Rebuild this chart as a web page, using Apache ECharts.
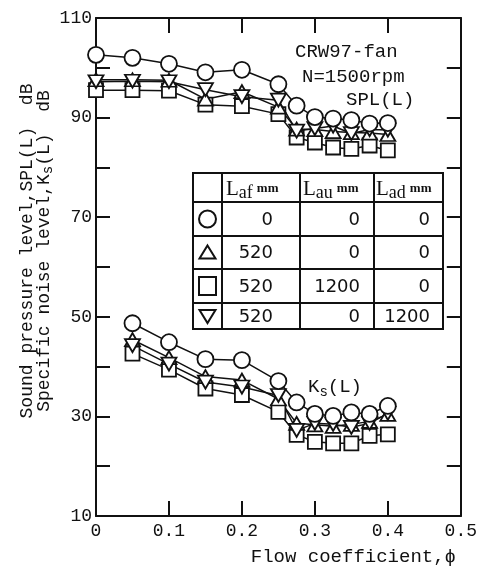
<!DOCTYPE html>
<html>
<head>
<meta charset="utf-8">
<script src="https://cdn.jsdelivr.net/npm/echarts@6.0.0/dist/echarts.min.js"></script>
<style>
  html, body { margin: 0; padding: 0; background: #fff; }
  #chart { width: 480px; height: 568px; }
</style>
</head>
<body>
<div id="chart"></div>
<script>
// flow coefficient points
const phiSpl = [0, 0.05, 0.1, 0.15, 0.2, 0.25, 0.275, 0.3, 0.325, 0.35, 0.375, 0.4];
const phiKs = [0.05, 0.1, 0.15, 0.2, 0.25, 0.275, 0.3, 0.325, 0.35, 0.375, 0.4];

// SPL(L), dB
const splCircle = [102.6, 102, 100.8, 99.1, 99.6, 96.7, 92.4, 90.1, 89.8, 89.5, 88.8, 88.9];
const splTri = [97.6, 97.6, 97.5, 93.7, 95.2, 92.1, 87.7, 87.6, 87.2, 87, 86.9, 86.6];
const splSquare = [95.5, 95.5, 95.4, 92.6, 92.3, 90.7, 86, 85, 84, 83.7, 84.4, 83.4];
const splInv = [97.2, 97.3, 97.2, 95.6, 94.2, 93.5, 87.3, 87.8, 88.3, 86.8, 87.6, 87.5];

// Ks(L), dB
const ksCircle = [48.7, 44.9, 41.5, 41.3, 37.1, 32.8, 30.5, 30.1, 30.8, 30.5, 32.1];
const ksTri = [45.4, 41.8, 38, 37.3, 33.5, 28.6, 28.3, 28, 28.4, 29, 30.4];
const ksSquare = [42.6, 39.4, 35.6, 34.3, 30.9, 26.3, 24.9, 24.6, 24.6, 26.1, 26.4];
const ksInv = [44.2, 40.5, 36.9, 35.9, 34.2, 27.2, 28.6, 28.4, 27.8, 28.6, 30.6];

// table of duct lengths (mm)
const tableLaf = [0, 520, 520, 520];
const tableLau = [0, 0, 1200, 0];
const tableLad = [0, 0, 0, 1200];

const xTicks = [0, 0.1, 0.2, 0.3, 0.4, 0.5];
const yLabels = [10, 30, 50, 70, 90, 110];

const ink = '#111';
const mono = '"Liberation Mono", "DejaVu Sans Mono", monospace';
const serif = '"Liberation Serif", "DejaVu Serif", serif';
const sans = '"DejaVu Sans", "Noto Sans", sans-serif';

function pairs(xs, ys) {
  return xs.map((x, i) => [x, ys[i]]);
}

const markers = {
  circle: { symbol: 'circle', symbolSize: 16, symbolRotate: 0 },
  tri: { symbol: 'triangle', symbolSize: [15, 13], symbolRotate: 0 },
  square: { symbol: 'rect', symbolSize: 14, symbolRotate: 0 },
  inv: { symbol: 'triangle', symbolSize: [15, 13], symbolRotate: 180 }
};

function lineSeries(name, xs, ys, kind) {
  return {
    name: name,
    type: 'line',
    data: pairs(xs, ys),
    symbol: markers[kind].symbol,
    symbolSize: markers[kind].symbolSize,
    symbolRotate: markers[kind].symbolRotate,
    showAllSymbol: true,
    lineStyle: { color: ink, width: 1.5 },
    itemStyle: { color: '#fff', borderColor: ink, borderWidth: 1.8 },
    emphasis: { disabled: true },
    animation: false
  };
}

// table graphic
const colX = [193, 222, 300, 374, 443];
const rowY = [173, 202, 236, 269, 303, 329];
const numRight = [273, 360, 430];

function buildTable() {
  const g = [];
  const lineStyle = { stroke: ink, lineWidth: 2 };
  g.push({ type: 'rect', shape: { x: colX[0], y: rowY[0], width: colX[4] - colX[0], height: rowY[5] - rowY[0] },
    style: { fill: '#fff', stroke: ink, lineWidth: 2 }, z: 100 });
  for (let i = 1; i < 4; i++) {
    g.push({ type: 'line', shape: { x1: colX[i], y1: rowY[0], x2: colX[i], y2: rowY[5] }, style: lineStyle, z: 101 });
  }
  for (let j = 1; j < 5; j++) {
    g.push({ type: 'line', shape: { x1: colX[0], y1: rowY[j], x2: colX[4], y2: rowY[j] }, style: lineStyle, z: 101 });
  }
  // header
  const subs = ['af', 'au', 'ad'];
  const headX = [226, 303, 376];
  subs.forEach((s, i) => {
    g.push({
      type: 'text', x: headX[i], y: 189, z: 102,
      style: {
        text: '{L|L}{s|' + s + '}{m|mm}',
        verticalAlign: 'middle', align: 'left',
        rich: {
          L: { fontFamily: serif, fontSize: 21, fill: ink, verticalAlign: 'middle', lineHeight: 26 },
          s: { fontFamily: serif, fontSize: 18, fill: ink, verticalAlign: 'bottom', lineHeight: 26 },
          m: { fontFamily: serif, fontSize: 13, fontWeight: 'bold', fill: ink, verticalAlign: 'middle', lineHeight: 26, padding: [0, 0, 0, 4] }
        }
      }
    });
  });
  // rows
  const cx = (colX[0] + colX[1]) / 2;
  for (let r = 0; r < 4; r++) {
    const cy = (rowY[r + 1] + rowY[r + 2]) / 2;
    let shape;
    if (r === 0) {
      shape = { type: 'circle', shape: { cx: cx, cy: cy, r: 8.5 } };
    } else if (r === 1) {
      shape = { type: 'polygon', shape: { points: [[cx, cy - 7], [cx + 8, cy + 6], [cx - 8, cy + 6]] } };
    } else if (r === 2) {
      shape = { type: 'rect', shape: { x: cx - 8.5, y: cy - 9, width: 17, height: 18 } };
    } else {
      shape = { type: 'polygon', shape: { points: [[cx - 8, cy - 6], [cx + 8, cy - 6], [cx, cy + 7]] } };
    }
    shape.style = { fill: '#fff', stroke: ink, lineWidth: 2 };
    shape.z = 102;
    g.push(shape);
    [tableLaf[r], tableLau[r], tableLad[r]].forEach((v, c) => {
      g.push({
        type: 'text', x: numRight[c], y: cy + 1, z: 102,
        style: { text: String(v), font: '18px ' + sans, fill: ink, align: 'right', verticalAlign: 'middle' }
      });
    });
  }
  return g;
}

const annotations = [
  { type: 'text', x: 295, y: 52, style: { text: 'CRW97-fan', font: '19px ' + mono, fill: ink, align: 'left', verticalAlign: 'middle' } },
  { type: 'text', x: 302, y: 77, style: { text: 'N=1500rpm', font: '19px ' + mono, fill: ink, align: 'left', verticalAlign: 'middle' } },
  { type: 'text', x: 346, y: 100, style: { text: 'SPL(L)', font: '19px ' + mono, fill: ink, align: 'left', verticalAlign: 'middle' } },
  {
    type: 'text', x: 308, y: 387,
    style: {
      text: '{n|K}{s|s}{n|(L)}', align: 'left', verticalAlign: 'middle',
      rich: {
        n: { fontFamily: mono, fontSize: 19, fill: ink, verticalAlign: 'middle', lineHeight: 24 },
        s: { fontFamily: mono, fontSize: 14, fill: ink, verticalAlign: 'bottom', lineHeight: 24 }
      }
    }
  },
  { type: 'text', x: 456, y: 557, style: { text: 'Flow coefficient,ϕ', font: '19px ' + mono, fill: ink, align: 'right', verticalAlign: 'middle' } },
  { type: 'text', x: 27, y: 251, rotation: Math.PI / 2,
    style: { text: 'Sound pressure level,SPL(L)  dB', font: '18px ' + mono, fill: ink, align: 'center', verticalAlign: 'middle' } },
  {
    type: 'text', x: 44, y: 251, rotation: Math.PI / 2,
    style: {
      text: '{n|Specific noise level,K}{s|s}{n|(L)  dB}', align: 'center', verticalAlign: 'middle',
      rich: {
        n: { fontFamily: mono, fontSize: 18, fill: ink, verticalAlign: 'middle', lineHeight: 22 },
        s: { fontFamily: mono, fontSize: 14, fill: ink, verticalAlign: 'bottom', lineHeight: 22 }
      }
    }
  }
];

const frameAxis = {
  axisLine: { show: true, onZero: false, lineStyle: { color: ink, width: 2 } },
  splitLine: { show: false }
};

const option = {
  backgroundColor: '#fff',
  animation: false,
  grid: { left: 96, right: 18, top: 18, bottom: 52, containLabel: false },
  xAxis: [
    Object.assign({
      type: 'value', min: 0, max: 0.5, interval: 0.1, position: 'bottom',
      axisTick: { show: true, inside: true, length: 15, lineStyle: { color: ink, width: 2 } },
      axisLabel: {
        show: true, margin: 6, color: ink, fontFamily: mono, fontSize: 18,
        formatter: v => (xTicks.indexOf(+v.toFixed(1)) >= 0 ? (v === 0 ? '0' : v.toFixed(1)) : '')
      }
    }, frameAxis),
    Object.assign({
      type: 'value', min: 0, max: 0.5, interval: 0.1, position: 'top',
      axisTick: { show: true, inside: true, length: 15, lineStyle: { color: ink, width: 2 } },
      axisLabel: { show: false }
    }, frameAxis)
  ],
  yAxis: [
    Object.assign({
      type: 'value', min: 10, max: 110, interval: 10, position: 'left',
      axisTick: { show: true, inside: true, length: 14, lineStyle: { color: ink, width: 2 } },
      axisLabel: {
        show: true, margin: 4, color: ink, fontFamily: mono, fontSize: 18,
        formatter: v => (yLabels.indexOf(v) >= 0 ? String(v) : '')
      }
    }, frameAxis),
    Object.assign({
      type: 'value', min: 10, max: 110, interval: 10, position: 'right',
      axisTick: { show: true, inside: true, length: 14, lineStyle: { color: ink, width: 2 } },
      axisLabel: { show: false }
    }, frameAxis)
  ],
  series: [
    lineSeries('SPL 520/1200/0', phiSpl, splSquare, 'square'),
    lineSeries('SPL 520/0/0', phiSpl, splTri, 'tri'),
    lineSeries('SPL 520/0/1200', phiSpl, splInv, 'inv'),
    lineSeries('SPL 0/0/0', phiSpl, splCircle, 'circle'),
    lineSeries('Ks 520/1200/0', phiKs, ksSquare, 'square'),
    lineSeries('Ks 520/0/0', phiKs, ksTri, 'tri'),
    lineSeries('Ks 520/0/1200', phiKs, ksInv, 'inv'),
    lineSeries('Ks 0/0/0', phiKs, ksCircle, 'circle')
  ],
  graphic: buildTable().concat(annotations)
};

let myChart = echarts.init(document.getElementById('chart'), null, { renderer: 'canvas' });
myChart.setOption(option);
</script>
</body>
</html>
